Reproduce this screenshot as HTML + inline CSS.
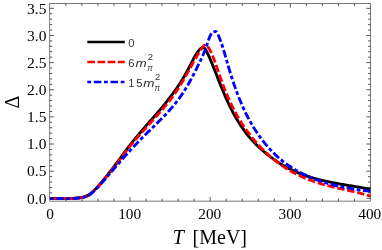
<!DOCTYPE html>
<html><head><meta charset="utf-8"><style>
html,body{margin:0;padding:0;background:#fff;}
svg{display:block;will-change:transform;}
text{font-family:"Liberation Serif",serif;fill:#000;}
.s text{font-family:"Liberation Sans",sans-serif;fill:#333;}
.i{font-style:italic;}
</style></head><body>
<svg width="382" height="250" viewBox="0 0 382 250">
<rect width="382" height="250" fill="#fff"/>
<defs><clipPath id="c"><rect x="49.8" y="3.6" width="320.70" height="197.50"/></clipPath></defs>
<g clip-path="url(#c)" fill="none" stroke-width="2.85" stroke-linejoin="round">
<path d="M49.70,198.65C50.75,198.65 54.28,198.65 56.00,198.65C57.72,198.65 58.92,198.65 60.00,198.65C61.08,198.65 61.67,198.65 62.50,198.65C63.33,198.64 64.17,198.64 65.00,198.64C65.83,198.63 66.67,198.63 67.50,198.61C68.33,198.60 69.17,198.58 70.00,198.55C70.83,198.52 71.67,198.49 72.50,198.45C73.33,198.40 74.17,198.34 75.00,198.28C75.83,198.21 76.67,198.13 77.50,198.04C78.33,197.95 79.17,197.86 80.00,197.74C80.83,197.61 81.67,197.49 82.50,197.30C83.33,197.12 84.17,196.93 85.00,196.65C85.83,196.37 86.67,196.07 87.50,195.63C88.33,195.20 89.17,194.66 90.00,194.04C90.83,193.41 91.67,192.64 92.50,191.89C93.33,191.15 94.17,190.37 95.00,189.56C95.83,188.74 96.67,187.90 97.50,187.01C98.33,186.12 99.17,185.17 100.00,184.21C100.83,183.25 101.67,182.25 102.50,181.24C103.33,180.22 104.17,179.17 105.00,178.12C105.83,177.07 106.67,176.00 107.50,174.94C108.33,173.87 109.17,172.80 110.00,171.72C110.83,170.65 111.67,169.58 112.50,168.50C113.33,167.42 114.17,166.34 115.00,165.25C115.83,164.16 116.67,163.06 117.50,161.94C118.33,160.83 119.17,159.69 120.00,158.55C120.83,157.41 121.67,156.25 122.50,155.10C123.33,153.95 124.17,152.80 125.00,151.66C125.83,150.52 126.67,149.36 127.50,148.27C128.33,147.17 129.17,146.12 130.00,145.07C130.83,144.02 131.67,142.99 132.50,141.97C133.33,140.95 134.17,139.95 135.00,138.94C135.83,137.92 136.67,136.89 137.50,135.88C138.33,134.87 139.17,133.88 140.00,132.89C140.83,131.90 141.67,130.91 142.50,129.94C143.33,128.96 144.17,128.00 145.00,127.03C145.83,126.07 146.67,125.11 147.50,124.16C148.33,123.20 149.17,122.25 150.00,121.30C150.83,120.36 151.67,119.42 152.50,118.48C153.33,117.53 154.17,116.58 155.00,115.62C155.83,114.67 156.67,113.71 157.50,112.74C158.33,111.77 159.17,110.78 160.00,109.80C160.83,108.81 161.67,107.84 162.50,106.84C163.33,105.84 164.17,104.84 165.00,103.81C165.83,102.78 166.67,101.74 167.50,100.68C168.33,99.63 169.17,98.55 170.00,97.45C170.83,96.36 171.67,95.24 172.50,94.10C173.33,92.96 174.17,91.80 175.00,90.61C175.83,89.43 176.67,88.22 177.50,86.98C178.33,85.73 179.17,84.47 180.00,83.17C180.83,81.87 181.67,80.54 182.50,79.16C183.33,77.79 184.17,76.39 185.00,74.94C185.83,73.50 186.67,72.01 187.50,70.48C188.33,68.95 189.17,67.35 190.00,65.75C190.83,64.15 191.92,62.00 192.50,60.86C193.08,59.73 193.17,59.57 193.50,58.94C193.83,58.31 194.17,57.69 194.50,57.09C194.83,56.48 195.17,55.89 195.50,55.31C195.83,54.74 196.17,54.18 196.50,53.65C196.83,53.12 197.17,52.61 197.50,52.13C197.83,51.65 198.17,51.19 198.50,50.77C198.83,50.34 199.17,49.95 199.50,49.59C199.83,49.24 200.17,48.91 200.50,48.63C200.83,48.35 201.17,48.11 201.50,47.91C201.83,47.72 202.18,47.56 202.50,47.46C202.82,47.35 203.08,47.19 203.40,47.30C203.72,47.40 204.07,47.75 204.40,48.10C204.73,48.44 205.07,48.89 205.40,49.38C205.73,49.88 206.07,50.45 206.40,51.05C206.73,51.65 207.07,52.31 207.40,52.98C207.73,53.66 208.07,54.36 208.40,55.09C208.73,55.81 209.07,56.56 209.40,57.32C209.73,58.08 210.07,58.87 210.40,59.66C210.73,60.45 211.07,61.26 211.40,62.07C211.73,62.89 212.07,63.71 212.40,64.54C212.73,65.36 213.07,66.20 213.40,67.03C213.73,67.86 214.07,68.70 214.40,69.54C214.73,70.38 214.82,70.59 215.40,72.05C215.98,73.52 217.07,76.26 217.90,78.35C218.73,80.44 219.57,82.54 220.40,84.60C221.23,86.66 222.07,88.70 222.90,90.70C223.73,92.70 224.57,94.68 225.40,96.59C226.23,98.50 227.07,100.38 227.90,102.18C228.73,103.98 229.57,105.73 230.40,107.41C231.23,109.10 232.07,110.72 232.90,112.29C233.73,113.86 234.57,115.37 235.40,116.84C236.23,118.30 237.07,119.71 237.90,121.07C238.73,122.43 239.57,123.74 240.40,125.01C241.23,126.28 242.07,127.50 242.90,128.68C243.73,129.86 244.57,130.99 245.40,132.09C246.23,133.20 247.07,134.25 247.90,135.28C248.73,136.31 249.57,137.30 250.40,138.26C251.23,139.22 252.07,140.15 252.90,141.05C253.73,141.96 254.57,142.83 255.40,143.68C256.23,144.53 257.07,145.35 257.90,146.15C258.73,146.95 259.57,147.73 260.40,148.49C261.23,149.25 262.07,149.99 262.90,150.72C263.73,151.44 264.57,152.15 265.40,152.84C266.23,153.54 267.07,154.21 267.90,154.88C268.73,155.54 269.57,156.19 270.40,156.83C271.23,157.46 272.07,158.08 272.90,158.69C273.73,159.29 274.57,159.88 275.40,160.46C276.23,161.03 277.07,161.59 277.90,162.14C278.73,162.68 279.57,163.21 280.40,163.73C281.23,164.24 282.07,164.74 282.90,165.23C283.73,165.72 284.57,166.18 285.40,166.64C286.23,167.10 287.07,167.54 287.90,167.98C288.73,168.41 289.57,168.83 290.40,169.24C291.23,169.65 292.07,170.05 292.90,170.44C293.73,170.83 294.57,171.21 295.40,171.57C296.23,171.94 297.07,172.30 297.90,172.65C298.73,172.99 299.57,173.33 300.40,173.66C301.23,173.99 302.07,174.31 302.90,174.62C303.73,174.93 304.57,175.23 305.40,175.52C306.23,175.81 307.07,176.09 307.90,176.37C308.73,176.65 309.57,176.92 310.40,177.18C311.23,177.44 312.07,177.69 312.90,177.94C313.73,178.18 314.57,178.42 315.40,178.65C316.23,178.88 317.07,179.11 317.90,179.33C318.73,179.55 319.57,179.76 320.40,179.97C321.23,180.18 322.07,180.38 322.90,180.58C323.73,180.77 324.57,180.96 325.40,181.15C326.23,181.34 327.07,181.52 327.90,181.70C328.73,181.87 329.57,182.05 330.40,182.22C331.23,182.39 332.07,182.55 332.90,182.71C333.73,182.88 334.57,183.03 335.40,183.19C336.23,183.35 337.07,183.50 337.90,183.65C338.73,183.80 339.57,183.95 340.40,184.09C341.23,184.24 342.07,184.38 342.90,184.52C343.73,184.67 344.57,184.81 345.40,184.95C346.23,185.09 347.07,185.22 347.90,185.36C348.73,185.50 349.57,185.64 350.40,185.77C351.23,185.91 352.07,186.05 352.90,186.18C353.73,186.32 354.57,186.46 355.40,186.60C356.23,186.73 357.07,186.87 357.90,187.01C358.73,187.15 359.57,187.29 360.40,187.43C361.23,187.58 362.07,187.72 362.90,187.87C363.73,188.01 364.57,188.16 365.40,188.31C366.23,188.46 367.07,188.62 367.90,188.77C368.73,188.93 369.93,189.16 370.40,189.25C370.87,189.34 370.65,189.30 370.70,189.31" stroke="#000"/>
<path d="M49.70,198.65C50.75,198.65 54.28,198.65 56.00,198.65C57.72,198.65 58.92,198.65 60.00,198.65C61.08,198.65 61.67,198.65 62.50,198.65C63.33,198.65 64.17,198.65 65.00,198.64C65.83,198.64 66.67,198.63 67.50,198.62C68.33,198.61 69.17,198.59 70.00,198.56C70.83,198.54 71.67,198.51 72.50,198.46C73.33,198.42 74.17,198.37 75.00,198.30C75.83,198.23 76.67,198.16 77.50,198.07C78.33,197.98 79.17,197.90 80.00,197.78C80.83,197.66 81.67,197.54 82.50,197.37C83.33,197.19 84.17,197.01 85.00,196.74C85.83,196.48 86.67,196.20 87.50,195.79C88.33,195.37 89.17,194.86 90.00,194.25C90.83,193.64 91.67,192.86 92.50,192.12C93.33,191.38 94.17,190.61 95.00,189.81C95.83,189.00 96.67,188.17 97.50,187.29C98.33,186.41 99.17,185.45 100.00,184.50C100.83,183.55 101.67,182.57 102.50,181.58C103.33,180.59 104.17,179.57 105.00,178.55C105.83,177.52 106.67,176.48 107.50,175.44C108.33,174.39 109.17,173.34 110.00,172.27C110.83,171.21 111.67,170.14 112.50,169.07C113.33,167.99 114.17,166.91 115.00,165.82C115.83,164.73 116.67,163.63 117.50,162.53C118.33,161.43 119.17,160.33 120.00,159.22C120.83,158.11 121.67,156.99 122.50,155.87C123.33,154.76 124.17,153.63 125.00,152.51C125.83,151.39 126.67,150.21 127.50,149.13C128.33,148.05 129.17,147.05 130.00,146.03C130.83,145.02 131.67,144.04 132.50,143.05C133.33,142.07 134.17,141.09 135.00,140.13C135.83,139.16 136.67,138.20 137.50,137.25C138.33,136.30 139.17,135.36 140.00,134.42C140.83,133.48 141.67,132.55 142.50,131.62C143.33,130.69 144.17,129.77 145.00,128.85C145.83,127.92 146.67,127.00 147.50,126.08C148.33,125.16 149.17,124.25 150.00,123.33C150.83,122.41 151.67,121.49 152.50,120.57C153.33,119.65 154.17,118.72 155.00,117.79C155.83,116.87 156.67,115.94 157.50,115.00C158.33,114.06 159.17,113.12 160.00,112.17C160.83,111.22 161.67,110.27 162.50,109.30C163.33,108.33 164.17,107.35 165.00,106.36C165.83,105.36 166.67,104.35 167.50,103.31C168.33,102.28 169.17,101.22 170.00,100.14C170.83,99.06 171.67,97.95 172.50,96.82C173.33,95.68 174.17,94.51 175.00,93.31C175.83,92.11 176.67,90.87 177.50,89.60C178.33,88.33 179.17,87.01 180.00,85.67C180.83,84.33 181.67,82.95 182.50,81.55C183.33,80.15 184.17,78.71 185.00,77.27C185.83,75.82 186.67,74.35 187.50,72.87C188.33,71.39 189.17,69.89 190.00,68.39C190.83,66.89 191.92,64.92 192.50,63.86C193.08,62.81 193.17,62.66 193.50,62.06C193.83,61.46 194.17,60.86 194.50,60.27C194.83,59.68 195.17,59.09 195.50,58.51C195.83,57.92 196.17,57.34 196.50,56.77C196.83,56.20 197.17,55.63 197.50,55.08C197.83,54.52 198.17,53.97 198.50,53.43C198.83,52.89 199.17,52.35 199.50,51.83C199.83,51.31 200.17,50.80 200.50,50.30C200.83,49.80 201.17,49.31 201.50,48.83C201.83,48.36 202.17,47.90 202.50,47.45C202.83,47.00 203.20,46.53 203.50,46.15C203.80,45.77 204.00,45.35 204.30,45.18C204.60,45.00 204.97,45.07 205.30,45.12C205.63,45.17 205.97,45.29 206.30,45.48C206.63,45.67 206.97,45.94 207.30,46.25C207.63,46.57 207.97,46.96 208.30,47.40C208.63,47.84 208.97,48.34 209.30,48.88C209.63,49.43 209.97,50.03 210.30,50.67C210.63,51.31 210.97,52.00 211.30,52.72C211.63,53.44 211.97,54.21 212.30,55.01C212.63,55.80 212.97,56.63 213.30,57.49C213.63,58.34 213.97,59.23 214.30,60.14C214.63,61.04 214.97,61.97 215.30,62.91C215.63,63.85 215.72,64.07 216.30,65.78C216.88,67.48 217.97,70.70 218.80,73.12C219.63,75.53 220.47,77.97 221.30,80.28C222.13,82.59 222.97,84.82 223.80,86.98C224.63,89.14 225.47,91.21 226.30,93.22C227.13,95.23 227.97,97.17 228.80,99.04C229.63,100.91 230.47,102.71 231.30,104.46C232.13,106.20 232.97,107.88 233.80,109.50C234.63,111.13 235.47,112.69 236.30,114.20C237.13,115.71 237.97,117.17 238.80,118.58C239.63,119.99 240.47,121.35 241.30,122.66C242.13,123.98 242.97,125.25 243.80,126.48C244.63,127.72 245.47,128.91 246.30,130.07C247.13,131.23 247.97,132.34 248.80,133.44C249.63,134.53 250.47,135.59 251.30,136.62C252.13,137.66 252.97,138.67 253.80,139.65C254.63,140.64 255.47,141.60 256.30,142.55C257.13,143.49 257.97,144.41 258.80,145.31C259.63,146.22 260.47,147.10 261.30,147.96C262.13,148.82 262.97,149.66 263.80,150.49C264.63,151.31 265.47,152.11 266.30,152.90C267.13,153.68 267.97,154.45 268.80,155.20C269.63,155.94 270.47,156.67 271.30,157.39C272.13,158.10 272.97,158.79 273.80,159.47C274.63,160.15 275.47,160.81 276.30,161.45C277.13,162.10 277.97,162.73 278.80,163.34C279.63,163.95 280.47,164.55 281.30,165.13C282.13,165.71 282.97,166.28 283.80,166.83C284.63,167.38 285.47,167.92 286.30,168.44C287.13,168.97 287.97,169.47 288.80,169.97C289.63,170.47 290.47,170.95 291.30,171.42C292.13,171.89 292.97,172.34 293.80,172.79C294.63,173.23 295.47,173.67 296.30,174.09C297.13,174.51 297.97,174.91 298.80,175.31C299.63,175.71 300.47,176.10 301.30,176.47C302.13,176.85 302.97,177.22 303.80,177.57C304.63,177.93 305.47,178.27 306.30,178.61C307.13,178.95 307.97,179.27 308.80,179.59C309.63,179.91 310.47,180.22 311.30,180.52C312.13,180.82 312.97,181.12 313.80,181.40C314.63,181.69 315.47,181.97 316.30,182.24C317.13,182.51 317.97,182.78 318.80,183.03C319.63,183.29 320.47,183.54 321.30,183.79C322.13,184.04 322.97,184.28 323.80,184.51C324.63,184.75 325.47,184.98 326.30,185.20C327.13,185.43 327.97,185.65 328.80,185.86C329.63,186.08 330.47,186.29 331.30,186.50C332.13,186.71 332.97,186.92 333.80,187.12C334.63,187.32 335.47,187.52 336.30,187.72C337.13,187.92 337.97,188.11 338.80,188.30C339.63,188.50 340.47,188.69 341.30,188.88C342.13,189.07 342.97,189.26 343.80,189.45C344.63,189.64 345.47,189.83 346.30,190.02C347.13,190.20 347.97,190.39 348.80,190.58C349.63,190.77 350.47,190.96 351.30,191.15C352.13,191.34 352.97,191.54 353.80,191.73C354.63,191.92 355.47,192.12 356.30,192.32C357.13,192.52 357.97,192.72 358.80,192.92C359.63,193.13 360.47,193.33 361.30,193.54C362.13,193.75 362.97,193.97 363.80,194.18C364.63,194.40 365.47,194.62 366.30,194.85C367.13,195.08 368.07,195.34 368.80,195.55C369.53,195.76 370.38,196.01 370.70,196.10" stroke="#f00" stroke-dasharray="7.4 2.75"/>
<path d="M49.70,198.65C50.75,198.65 54.28,198.65 56.00,198.65C57.72,198.65 58.92,198.65 60.00,198.65C61.08,198.65 61.67,198.65 62.50,198.65C63.33,198.65 64.17,198.65 65.00,198.64C65.83,198.64 66.67,198.64 67.50,198.63C68.33,198.62 69.17,198.60 70.00,198.57C70.83,198.55 71.67,198.52 72.50,198.48C73.33,198.44 74.17,198.39 75.00,198.33C75.83,198.27 76.67,198.19 77.50,198.11C78.33,198.02 79.17,197.94 80.00,197.83C80.83,197.72 81.67,197.61 82.50,197.45C83.33,197.29 84.17,197.11 85.00,196.87C85.83,196.62 86.67,196.37 87.50,195.99C88.33,195.60 89.17,195.14 90.00,194.54C90.83,193.95 91.67,193.18 92.50,192.44C93.33,191.71 94.17,190.95 95.00,190.15C95.83,189.36 96.67,188.54 97.50,187.67C98.33,186.80 99.17,185.87 100.00,184.95C100.83,184.03 101.67,183.09 102.50,182.14C103.33,181.18 104.17,180.21 105.00,179.24C105.83,178.27 106.67,177.30 107.50,176.33C108.33,175.36 109.17,174.38 110.00,173.41C110.83,172.44 111.67,171.47 112.50,170.50C113.33,169.53 114.17,168.56 115.00,167.59C115.83,166.62 116.67,165.66 117.50,164.70C118.33,163.74 119.17,162.78 120.00,161.82C120.83,160.87 121.67,159.92 122.50,158.98C123.33,158.03 124.17,157.09 125.00,156.16C125.83,155.23 126.67,154.30 127.50,153.38C128.33,152.46 129.17,151.55 130.00,150.64C130.83,149.74 131.67,148.85 132.50,147.96C133.33,147.07 134.17,146.19 135.00,145.31C135.83,144.44 136.67,143.57 137.50,142.71C138.33,141.84 139.17,140.98 140.00,140.13C140.83,139.28 141.67,138.43 142.50,137.59C143.33,136.75 144.17,135.92 145.00,135.09C145.83,134.25 146.67,133.43 147.50,132.61C148.33,131.78 149.17,130.97 150.00,130.15C150.83,129.33 151.67,128.51 152.50,127.70C153.33,126.88 154.17,126.07 155.00,125.25C155.83,124.43 156.67,123.61 157.50,122.78C158.33,121.96 159.17,121.13 160.00,120.29C160.83,119.46 161.67,118.62 162.50,117.77C163.33,116.92 164.17,116.07 165.00,115.20C165.83,114.33 166.67,113.45 167.50,112.56C168.33,111.66 169.17,110.74 170.00,109.81C170.83,108.87 171.67,107.91 172.50,106.93C173.33,105.94 174.17,104.94 175.00,103.90C175.83,102.86 176.67,101.79 177.50,100.69C178.33,99.59 179.17,98.46 180.00,97.29C180.83,96.12 181.67,94.91 182.50,93.66C183.33,92.42 184.17,91.13 185.00,89.80C185.83,88.47 186.67,87.10 187.50,85.67C188.33,84.25 189.17,82.78 190.00,81.27C190.83,79.75 191.67,78.18 192.50,76.58C193.33,74.99 194.17,73.34 195.00,71.69C195.83,70.04 196.67,68.36 197.50,66.68C198.33,64.99 199.17,63.33 200.00,61.59C200.83,59.84 201.67,58.11 202.50,56.21C203.33,54.31 204.42,51.63 205.00,50.18C205.58,48.74 205.67,48.44 206.00,47.52C206.33,46.60 206.67,45.65 207.00,44.67C207.33,43.69 207.67,42.65 208.00,41.65C208.33,40.66 208.67,39.61 209.00,38.69C209.33,37.76 209.67,36.85 210.00,36.10C210.33,35.35 210.67,34.70 211.00,34.18C211.33,33.65 211.67,33.26 212.00,32.93C212.33,32.60 212.67,32.38 213.00,32.19C213.33,31.99 213.67,31.89 214.00,31.78C214.33,31.67 214.73,31.60 215.00,31.54C215.27,31.47 215.33,31.33 215.60,31.40C215.87,31.47 216.27,31.61 216.60,31.98C216.93,32.34 217.27,32.94 217.60,33.58C217.93,34.22 218.27,35.04 218.60,35.83C218.93,36.63 219.27,37.52 219.60,38.37C219.93,39.23 220.27,40.07 220.60,40.97C220.93,41.86 221.27,42.76 221.60,43.72C221.93,44.68 222.27,45.69 222.60,46.73C222.93,47.77 223.27,48.85 223.60,49.95C223.93,51.05 224.27,52.19 224.60,53.33C224.93,54.47 225.27,55.64 225.60,56.80C225.93,57.97 226.27,59.15 226.60,60.32C226.93,61.50 227.02,61.84 227.60,63.83C228.18,65.82 229.27,69.54 230.10,72.25C230.93,74.96 231.77,77.57 232.60,80.10C233.43,82.62 234.27,85.04 235.10,87.39C235.93,89.74 236.77,91.99 237.60,94.17C238.43,96.35 239.27,98.44 240.10,100.46C240.93,102.48 241.77,104.42 242.60,106.30C243.43,108.17 244.27,109.97 245.10,111.71C245.93,113.45 246.77,115.12 247.60,116.74C248.43,118.35 249.27,119.90 250.10,121.40C250.93,122.90 251.77,124.35 252.60,125.74C253.43,127.14 254.27,128.48 255.10,129.78C255.93,131.09 256.77,132.34 257.60,133.56C258.43,134.78 259.27,135.96 260.10,137.10C260.93,138.25 261.77,139.36 262.60,140.44C263.43,141.53 264.27,142.58 265.10,143.60C265.93,144.62 266.77,145.61 267.60,146.57C268.43,147.53 269.27,148.46 270.10,149.37C270.93,150.27 271.77,151.15 272.60,152.00C273.43,152.85 274.27,153.68 275.10,154.48C275.93,155.28 276.77,156.06 277.60,156.81C278.43,157.56 279.27,158.29 280.10,159.00C280.93,159.71 281.77,160.39 282.60,161.06C283.43,161.72 284.27,162.36 285.10,162.99C285.93,163.61 286.77,164.21 287.60,164.80C288.43,165.39 289.27,165.95 290.10,166.51C290.93,167.06 291.77,167.59 292.60,168.11C293.43,168.63 294.27,169.13 295.10,169.62C295.93,170.11 296.77,170.58 297.60,171.04C298.43,171.50 299.27,171.95 300.10,172.39C300.93,172.83 301.77,173.25 302.60,173.67C303.43,174.08 304.27,174.49 305.10,174.88C305.93,175.28 306.77,175.66 307.60,176.03C308.43,176.41 309.27,176.78 310.10,177.13C310.93,177.49 311.77,177.83 312.60,178.17C313.43,178.51 314.27,178.84 315.10,179.16C315.93,179.48 316.77,179.79 317.60,180.10C318.43,180.40 319.27,180.69 320.10,180.98C320.93,181.27 321.77,181.55 322.60,181.82C323.43,182.09 324.27,182.35 325.10,182.61C325.93,182.87 326.77,183.12 327.60,183.36C328.43,183.60 329.27,183.84 330.10,184.07C330.93,184.29 331.77,184.52 332.60,184.73C333.43,184.95 334.27,185.16 335.10,185.36C335.93,185.56 336.77,185.76 337.60,185.95C338.43,186.14 339.27,186.33 340.10,186.51C340.93,186.69 341.77,186.86 342.60,187.03C343.43,187.21 344.27,187.37 345.10,187.53C345.93,187.69 346.77,187.85 347.60,188.00C348.43,188.15 349.27,188.30 350.10,188.44C350.93,188.58 351.77,188.72 352.60,188.86C353.43,188.99 354.27,189.12 355.10,189.25C355.93,189.38 356.77,189.50 357.60,189.63C358.43,189.75 359.27,189.87 360.10,189.98C360.93,190.10 361.77,190.21 362.60,190.32C363.43,190.43 364.27,190.54 365.10,190.65C365.93,190.75 366.77,190.86 367.60,190.96C368.43,191.06 369.58,191.20 370.10,191.26C370.62,191.32 370.60,191.32 370.70,191.33" stroke="#00f" stroke-dasharray="3.8 2.5 7.7 2.5"/>
</g>
<rect x="49.8" y="3.6" width="320.70" height="197.50" fill="none" stroke="#111" stroke-width="0.56"/>
<path d="M65.83,201.10v-2.40M65.83,3.60v2.40M81.87,201.10v-2.40M81.87,3.60v2.40M97.91,201.10v-2.40M97.91,3.60v2.40M113.94,201.10v-2.40M113.94,3.60v2.40M129.97,201.10v-4.10M129.97,3.60v4.10M146.01,201.10v-2.40M146.01,3.60v2.40M162.04,201.10v-2.40M162.04,3.60v2.40M178.08,201.10v-2.40M178.08,3.60v2.40M194.12,201.10v-2.40M194.12,3.60v2.40M210.15,201.10v-4.10M210.15,3.60v4.10M226.19,201.10v-2.40M226.19,3.60v2.40M242.22,201.10v-2.40M242.22,3.60v2.40M258.25,201.10v-2.40M258.25,3.60v2.40M274.29,201.10v-2.40M274.29,3.60v2.40M290.32,201.10v-4.10M290.32,3.60v4.10M306.36,201.10v-2.40M306.36,3.60v2.40M322.39,201.10v-2.40M322.39,3.60v2.40M338.43,201.10v-2.40M338.43,3.60v2.40M354.46,201.10v-2.40M354.46,3.60v2.40M49.80,198.30h4.10M370.50,198.30h-4.10M49.80,192.87h2.40M370.50,192.87h-2.40M49.80,187.44h2.40M370.50,187.44h-2.40M49.80,182.02h2.40M370.50,182.02h-2.40M49.80,176.59h2.40M370.50,176.59h-2.40M49.80,171.16h4.10M370.50,171.16h-4.10M49.80,165.73h2.40M370.50,165.73h-2.40M49.80,160.30h2.40M370.50,160.30h-2.40M49.80,154.88h2.40M370.50,154.88h-2.40M49.80,149.45h2.40M370.50,149.45h-2.40M49.80,144.02h4.10M370.50,144.02h-4.10M49.80,138.59h2.40M370.50,138.59h-2.40M49.80,133.16h2.40M370.50,133.16h-2.40M49.80,127.74h2.40M370.50,127.74h-2.40M49.80,122.31h2.40M370.50,122.31h-2.40M49.80,116.88h4.10M370.50,116.88h-4.10M49.80,111.45h2.40M370.50,111.45h-2.40M49.80,106.02h2.40M370.50,106.02h-2.40M49.80,100.60h2.40M370.50,100.60h-2.40M49.80,95.17h2.40M370.50,95.17h-2.40M49.80,89.74h4.10M370.50,89.74h-4.10M49.80,84.31h2.40M370.50,84.31h-2.40M49.80,78.88h2.40M370.50,78.88h-2.40M49.80,73.46h2.40M370.50,73.46h-2.40M49.80,68.03h2.40M370.50,68.03h-2.40M49.80,62.60h4.10M370.50,62.60h-4.10M49.80,57.17h2.40M370.50,57.17h-2.40M49.80,51.74h2.40M370.50,51.74h-2.40M49.80,46.32h2.40M370.50,46.32h-2.40M49.80,40.89h2.40M370.50,40.89h-2.40M49.80,35.46h4.10M370.50,35.46h-4.10M49.80,30.03h2.40M370.50,30.03h-2.40M49.80,24.60h2.40M370.50,24.60h-2.40M49.80,19.18h2.40M370.50,19.18h-2.40M49.80,13.75h2.40M370.50,13.75h-2.40M49.80,8.32h4.10M370.50,8.32h-4.10" fill="none" stroke="#111" stroke-width="0.7"/>
<g font-size="15.3"><text x="50.2" y="219.2" text-anchor="middle">0</text><text x="129.7" y="219.2" text-anchor="middle">100</text><text x="209.8" y="219.2" text-anchor="middle">200</text><text x="290.0" y="219.2" text-anchor="middle">300</text><text x="369.8" y="219.2" text-anchor="middle">400</text></g><g font-size="15.5"><text x="46.4" y="203.6" text-anchor="end">0.0</text><text x="46.4" y="176.4" text-anchor="end">0.5</text><text x="46.4" y="149.3" text-anchor="end">1.0</text><text x="46.4" y="122.1" text-anchor="end">1.5</text><text x="46.4" y="95.0" text-anchor="end">2.0</text><text x="46.4" y="67.9" text-anchor="end">2.5</text><text x="46.4" y="40.7" text-anchor="end">3.0</text><text x="46.4" y="13.6" text-anchor="end">3.5</text></g>
<g fill="none" stroke-width="2.6">
<path d="M87.3,42.05H124.8" stroke="#000"/>
<path d="M87.3,61.95H124.8" stroke="#f00" stroke-dasharray="7.7 2.45"/>
<path d="M87.3,82.0H124.8" stroke="#00f" stroke-dasharray="3.8 2.7 7.5 2.7"/>
</g>
<g class="s" font-size="11.2">
<text x="128.3" y="46.8">0</text>
<text x="128.3" y="66.8">6</text>
<text class="i" x="135.5" y="66.8" font-size="11.8" textLength="11.2" lengthAdjust="spacingAndGlyphs">m</text>
<text x="147.7" y="59.7" font-size="9.4">2</text>
<text class="i" x="147.2" y="71.0" font-size="8.2">π</text>
<text x="128.3" y="86.6" letter-spacing="1.7">15</text>
<text class="i" x="143.2" y="86.6" font-size="11.8" textLength="11.2" lengthAdjust="spacingAndGlyphs">m</text>
<text x="155.0" y="79.6" font-size="9.4">2</text>
<text class="i" x="154.5" y="91.0" font-size="8.2">π</text>
</g>
<text x="172.8" y="244" font-size="20" font-style="italic">T</text>
<text x="192.6" y="244" font-size="20">[MeV]</text>
<text transform="translate(19.2,102) rotate(-90)" font-size="20" text-anchor="middle">Δ</text>
</svg>
</body></html>
